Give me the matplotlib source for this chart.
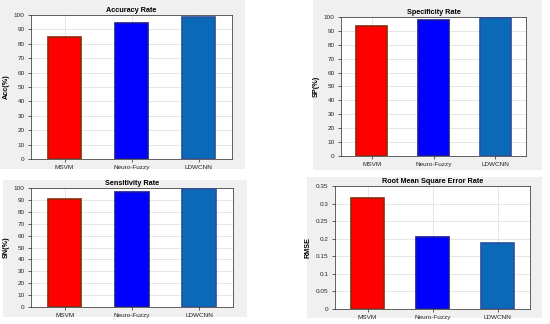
import matplotlib
matplotlib.use("Agg")
import matplotlib.pyplot as plt
from matplotlib.patches import Rectangle

plt.rcParams["font.family"] = ["Liberation Sans", "DejaVu Sans"]

methods = ["MSVM", "Neuro-Fuzzy", "LDWCNN"]
acc = [84.5, 94.5, 98.5]
spe = [93.5, 97.5, 99.5]
sen = [91.0, 97.0, 99.0]
rmse = [0.315, 0.205, 0.188]

colors = ["#ff0000", "#0000ff", "#0a6ab8"]
edges = ["#8b2a0a", "#1a1a9a", "#2a4fa0"]

W, H = 550, 324
fig = plt.figure(figsize=(W / 100, H / 100), dpi=100)
fig.patch.set_facecolor("white")

def px(x0, y0, x1, y1):
    # pixel box (top-left origin) -> figure fraction
    return [x0 / W, 1 - y1 / H, (x1 - x0) / W, (y1 - y0) / H]

panels = [
    # gray box, axes box, values, title, ylabel, ylim, yticks
    ((0, 0, 245, 169), (31, 15, 232, 159), acc, "Accuracy Rate", "Acc(%)", 100, range(0, 101, 10)),
    ((313, 0, 542, 170), (341, 17, 526, 156), spe, "Specificity Rate", "SP(%)", 100, range(0, 101, 10)),
    ((3, 180, 247, 317), (31, 188, 233, 307), sen, "Sensitivity Rate", "SN(%)", 100, range(0, 101, 10)),
    ((307, 177, 542, 318), (335, 186, 530, 309), rmse, "Root Mean Square Error Rate", "RMSE", 0.35,
     [0, 0.05, 0.1, 0.15, 0.2, 0.25, 0.3, 0.35]),
]

for gbox, abox, vals, title, ylab, ymax, yt in panels:
    r = px(*gbox)
    fig.patches.append(Rectangle((r[0], r[1]), r[2], r[3], transform=fig.transFigure,
                                 facecolor="#f0f0f0", edgecolor="none", zorder=-1))
    ax = fig.add_axes(px(*abox))
    ax.bar([1, 2, 3], vals, width=0.5, color=colors, edgecolor=edges, linewidth=1.2, zorder=3)
    ax.set_xlim(0.5, 3.5)
    ax.set_ylim(0, ymax)
    ax.set_yticks(list(yt))
    if ymax < 1:
        ax.set_yticklabels(["0", "0.05", "0.1", "0.15", "0.2", "0.25", "0.3", "0.35"])
    ax.set_xticks([1, 2, 3])
    ax.set_xticklabels(methods)
    ax.tick_params(labelsize=4.6, length=2, width=0.5, colors="#262626", pad=2.5)
    ax.grid(True, color="#dcdcdc", linewidth=0.5, zorder=0)
    ax.set_axisbelow(True)
    for s in ax.spines.values():
        s.set_linewidth(0.5)
        s.set_color("#262626")
    ax.set_title(title, fontsize=5.2, fontweight="bold", pad=2)
    ax.set_ylabel(ylab, fontsize=5.2, fontweight="bold", labelpad=3)

fig.savefig("out.png", dpi=100)
